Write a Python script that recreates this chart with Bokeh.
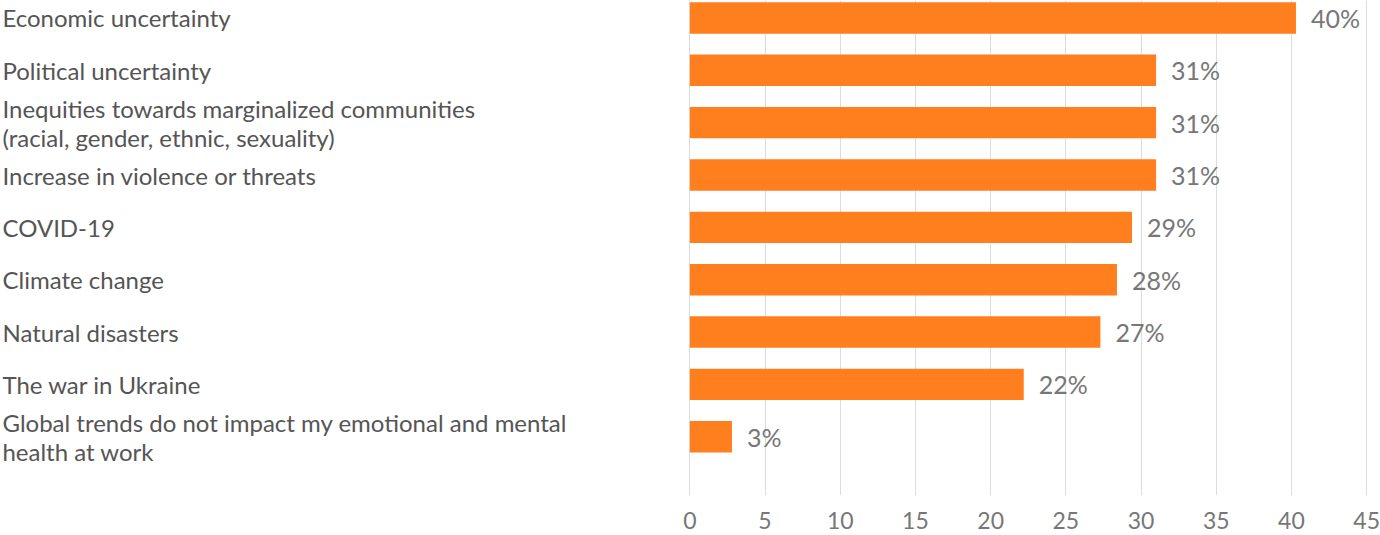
from bokeh.plotting import figure
from bokeh.models import Range1d, FixedTicker, ColumnDataSource
from bokeh.core.properties import value
from bokeh.embed import file_html
from bokeh.resources import INLINE

categories = [
    "Economic uncertainty",
    "Political uncertainty",
    "Inequities towards marginalized communities\n(racial, gender, ethnic, sexuality)",
    "Increase in violence or threats",
    "COVID-19",
    "Climate change",
    "Natural disasters",
    "The war in Ukraine",
    "Global trends do not impact my emotional and mental\nhealth at work",
]
values = [40.3, 31.0, 31.0, 31.0, 29.4, 28.4, 27.3, 22.2, 2.8]
value_labels = ["40%", "31%", "31%", "31%", "29%", "28%", "27%", "22%", "3%"]
x_ticks = [0, 5, 10, 15, 20, 25, 30, 35, 40, 45]

FONT = "Lato"
x_start, x_end = -45.83, 45.92
label_x = x_start + 0.13

pos = list(range(len(categories)))
src = ColumnDataSource(dict(y=pos, v=values, cat=categories, lab=value_labels,
                            lx=[label_x] * len(pos)))

p = figure(width=1380, height=535, output_backend="svg",
           toolbar_location=None, x_range=Range1d(x_start, x_end),
           y_range=Range1d(9.123, -0.334), y_axis_location=None,
           min_border=0, min_border_left=0, min_border_right=0,
           min_border_top=0, min_border_bottom=40)
p.outline_line_color = None
p.background_fill_color = "white"
p.border_fill_color = "white"

p.xaxis.ticker = FixedTicker(ticks=x_ticks)
p.xaxis.axis_line_color = None
p.xaxis.major_tick_line_color = None
p.xaxis.minor_tick_line_color = None
p.xaxis.major_label_text_font = FONT
p.xaxis.major_label_text_font_size = "23px"
p.xaxis.major_label_text_color = "#777777"
p.xaxis.major_label_standoff = 10
p.xgrid.ticker = FixedTicker(ticks=x_ticks)
p.xgrid.grid_line_color = "#dcdcdc"
p.ygrid.grid_line_color = None

p.hbar(y="y", right="v", left=0, height=0.6, source=src,
       fill_color="#FF7F1F", line_color=None)

p.text(x="v", y="y", text="lab", source=src, x_offset=15,
       text_font=value(FONT), text_font_size="25px", text_color="#777777",
       text_baseline="middle", text_align="left")

p.text(x="lx", y="y", text="cat", source=src,
       text_font=value(FONT), text_font_size="24px", text_color="#555555",
       text_baseline="middle", text_align="left", text_line_height=1.0)

open("out.html", "w").write(file_html(p, INLINE))
